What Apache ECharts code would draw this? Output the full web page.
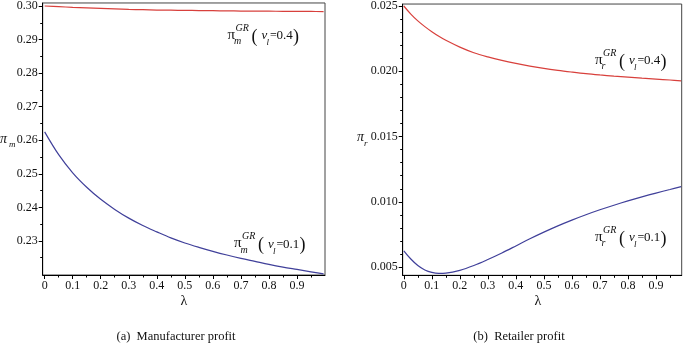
<!DOCTYPE html>
<html>
<head>
<meta charset="utf-8">
<script src="https://cdn.jsdelivr.net/npm/echarts@6/dist/echarts.min.js"></script>
<style>
  html, body { margin: 0; padding: 0; background: #fff; }
  #chart { width: 684px; height: 349px; }
</style>
</head>
<body>
<div id="chart"></div>
<script>
// λ sample points for the manufacturer panel
const lambdaM = [0, 0.05, 0.1, 0.15, 0.2, 0.25, 0.3, 0.35, 0.4, 0.45, 0.5,
                 0.55, 0.6, 0.65, 0.7, 0.75, 0.8, 0.85, 0.9, 0.95, 0.995];
// manufacturer profit, v_l = 0.4
const piM04 = [0.3000, 0.2998, 0.2996, 0.29945, 0.2993, 0.29915, 0.2990, 0.2989, 0.2988, 0.29875, 0.2987,
               0.29865, 0.2986, 0.29855, 0.2985, 0.29848, 0.29845, 0.29842, 0.2984, 0.29837, 0.29835];
// manufacturer profit, v_l = 0.1
const piM01 = [0.2625, 0.2557, 0.2503, 0.2460, 0.2424, 0.2394, 0.2368, 0.2346, 0.2327, 0.2309, 0.2294,
               0.2281, 0.2269, 0.2258, 0.2248, 0.2239, 0.2230, 0.2222, 0.2215, 0.2208, 0.2202];

// λ sample points for the retailer panel
const lambdaR = [0, 0.025, 0.05, 0.075, 0.1, 0.125, 0.15, 0.2, 0.25, 0.3, 0.35, 0.4,
                 0.45, 0.5, 0.55, 0.6, 0.65, 0.7, 0.75, 0.8, 0.85, 0.9, 0.95, 0.99];
// retailer profit, v_l = 0.4
const piR04 = [0.02500, 0.02438, 0.02386, 0.02342, 0.02303, 0.02268, 0.02237, 0.02185, 0.02142, 0.02110, 0.02083, 0.02060,
               0.02040, 0.02022, 0.02007, 0.01994, 0.01982, 0.01972, 0.01963, 0.01955, 0.01947, 0.01940, 0.01933, 0.01927];
// retailer profit, v_l = 0.1
const piR01 = [0.00625, 0.00562, 0.00512, 0.00478, 0.00459, 0.00452, 0.00454, 0.00475, 0.00512, 0.00558, 0.00608, 0.00662,
               0.00717, 0.00768, 0.00816, 0.00860, 0.00901, 0.00939, 0.00974, 0.01007, 0.01038, 0.01067, 0.01094, 0.01116];

// tick positions
const xMajor = [0, 0.1, 0.2, 0.3, 0.4, 0.5, 0.6, 0.7, 0.8, 0.9];
const xMinor = [0.05, 0.15, 0.25, 0.35, 0.45, 0.55, 0.65, 0.75, 0.85, 0.95];
const yMajorM = [0.23, 0.24, 0.25, 0.26, 0.27, 0.28, 0.29, 0.30];
const yMinorM = [0.225, 0.235, 0.245, 0.255, 0.265, 0.275, 0.285, 0.295];
const yMajorR = [0.005, 0.010, 0.015, 0.020, 0.025];
const yMinorR = [0.006, 0.007, 0.008, 0.009, 0.011, 0.012, 0.013, 0.014,
                 0.016, 0.017, 0.018, 0.019, 0.021, 0.022, 0.023, 0.024];

const SERIF = 'Liberation Serif';
const RED = '#d8403c';
const BLUE = '#40409a';

const pair = (xs, ys) => xs.map((x, i) => [x, ys[i]]);

function xAxes(gridIndex, min, max) {
  return [
    {
      type: 'value', gridIndex, min, max, position: 'bottom',
      splitLine: { show: false },
      axisLine: { show: true, onZero: false, lineStyle: { color: '#000', width: 1 } },
      axisTick: { show: true, inside: false, length: 4, customValues: xMajor, lineStyle: { color: '#000' } },
      axisLabel: {
        customValues: xMajor, margin: 5, color: '#111', fontFamily: SERIF, fontSize: 12,
        formatter: v => (Math.round(v * 10) / 10).toString()
      }
    },
    {
      type: 'value', gridIndex, min, max, position: 'bottom',
      splitLine: { show: false },
      axisLine: { show: false, onZero: false },
      axisTick: { show: true, inside: false, length: 2.5, customValues: xMinor, lineStyle: { color: '#000' } },
      axisLabel: { show: false }
    }
  ];
}

function yAxes(gridIndex, min, max, major, minor, digits) {
  return [
    {
      type: 'value', gridIndex, min, max, position: 'left',
      splitLine: { show: false },
      axisLine: { show: true, onZero: false, lineStyle: { color: '#000', width: 1 } },
      axisTick: { show: true, inside: false, length: 4, customValues: major, lineStyle: { color: '#000' } },
      axisLabel: {
        customValues: major, margin: 5, color: '#111', fontFamily: SERIF, fontSize: 12,
        formatter: v => v.toFixed(digits)
      }
    },
    {
      type: 'value', gridIndex, min, max, position: 'left',
      splitLine: { show: false },
      axisLine: { show: false, onZero: false },
      axisTick: { show: true, inside: false, length: 2.5, customValues: minor, lineStyle: { color: '#000' } },
      axisLabel: { show: false }
    }
  ];
}

function line(xIdx, yIdx, data, color) {
  return {
    type: 'line', xAxisIndex: xIdx, yAxisIndex: yIdx, data,
    smooth: 0.35, showSymbol: false, symbol: 'none', silent: true,
    lineStyle: { color, width: 1.2 }
  };
}

// small piece of typeset math text
function piece(x, y, text, size, italic) {
  return {
    type: 'text', x, y, silent: true,
    style: {
      text, fill: '#111', fontFamily: SERIF, fontSize: size,
      fontStyle: italic ? 'italic' : 'normal',
      align: 'left', verticalAlign: 'middle'
    }
  };
}

// label of the form  π_sub^GR ( v_l = val )
function curveLabel(ox, oy, sub, val) {
  return [
    piece(ox, oy, 'π', 15, false),
    piece(ox + 8, oy - 6.7, 'GR', 10, true),
    piece(ox + 6.5, oy + 6.5, sub, 10, true),
    piece(ox + 24, oy + 2, '(', 18, false),
    piece(ox + 34, oy + 1, 'v', 13, true),
    piece(ox + 39, oy + 8, 'l', 9, true),
    piece(ox + 42.5, oy + 1, '=', 12, false),
    piece(ox + 49, oy + 1, val, 13, false),
    piece(ox + 65.5, oy + 2, ')', 18, false)
  ];
}

function centered(x, y, text, size) {
  return {
    type: 'text', x, y, silent: true,
    style: { text, fill: '#111', fontFamily: SERIF, fontSize: size, align: 'center', verticalAlign: 'middle' }
  };
}

const graphics = [].concat(
  curveLabel(227.5, 35, 'm', '0.4'),
  curveLabel(234, 243.5, 'm', '0.1'),
  curveLabel(595, 60, 'r', '0.4'),
  curveLabel(595, 237, 'r', '0.1'),
  [
    // y-axis names
    piece(0, 139, 'π', 14, true),
    piece(9, 145, 'm', 9, true),
    piece(357, 137.5, 'π', 14, true),
    piece(364, 143.3, 'r', 9, true),
    // x-axis names
    centered(184, 301.5, 'λ', 14),
    centered(538, 301.5, 'λ', 14),
    // sub-figure captions
    centered(176, 337, '(a)  Manufacturer profit', 12.5),
    centered(519, 337, '(b)  Retailer profit', 12.5)
  ]
);

const option = {
  animation: false,
  backgroundColor: '#fff',
  grid: [
    { left: 42.7, top: 2.7, width: 282.3, height: 272.3, show: true, borderColor: '#444', borderWidth: 1, backgroundColor: 'transparent' },
    { left: 402.7, top: 1, width: 279, height: 274.3, show: true, borderColor: '#444', borderWidth: 1, backgroundColor: 'transparent' }
  ],
  xAxis: [].concat(xAxes(0, -0.007, 1.0), xAxes(1, -0.004, 0.992)),
  yAxis: [].concat(
    yAxes(0, 0.21985, 0.3009, yMajorM, yMinorM, 2),
    yAxes(1, 0.00437, 0.02515, yMajorR, yMinorR, 3)
  ),
  series: [
    line(0, 0, pair(lambdaM, piM04), RED),
    line(0, 0, pair(lambdaM, piM01), BLUE),
    line(2, 2, pair(lambdaR, piR04), RED),
    line(2, 2, pair(lambdaR, piR01), BLUE)
  ],
  graphic: graphics
};

const chart = echarts.init(document.getElementById('chart'), null, { renderer: 'canvas' });
chart.setOption(option);
</script>
</body>
</html>
